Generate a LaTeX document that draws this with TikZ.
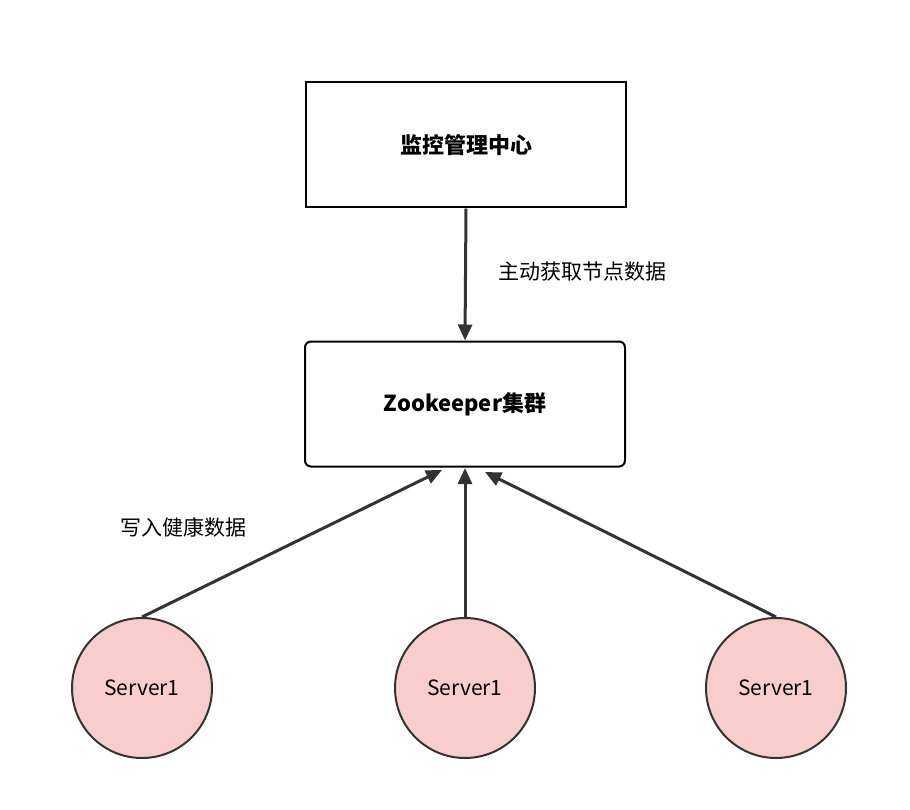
\documentclass[tikz,border=0pt]{standalone}
\usepackage{fontspec}
\setmainfont{Noto Sans CJK SC}
\usetikzlibrary{arrows.meta}
\definecolor{ln}{HTML}{333333}
\definecolor{pk}{HTML}{F8CECC}
\begin{document}
\begin{tikzpicture}[x=1pt,y=-1pt,
  box/.style={draw=black,line width=2pt,minimum width=320pt,minimum height=125pt,font=\bfseries\fontsize{22}{26}\selectfont},
  srv/.style={circle,draw=ln,line width=2pt,fill=pk,minimum size=140pt,inner sep=0pt,font=\fontsize{21}{25}\selectfont},
  arr/.style={draw=ln,line width=3pt,-{Triangle[length=16pt,width=14pt]}},
  lbl/.style={font=\fontsize{21}{25}\selectfont}]
\useasboundingbox (0,0) rectangle (910,810);
\node[box] (m) at (466,145) {监控管理中心};
\node[box,rounded corners=6pt] (z) at (465,404) {Zookeeper集群};
\node[srv] (s1) at (142,688) {Server1};
\node[srv] (s2) at (465,688) {Server1};
\node[srv] (s3) at (776,688) {Server1};
\coordinate (z1) at (442,470);
\coordinate (z2) at (465,468);
\coordinate (z3) at (485,472);
\draw[arr] (m.south) -- (z.north);
\draw[arr] (s1.north) -- (z1);
\draw[arr] (s2.north) -- (z2);
\draw[arr] (s3.north) -- (z3);
\node[lbl] (l1) at (582,272) {主动获取节点数据};
\node[lbl] (l2) at (183,527) {写入健康数据};
\end{tikzpicture}
\end{document}
